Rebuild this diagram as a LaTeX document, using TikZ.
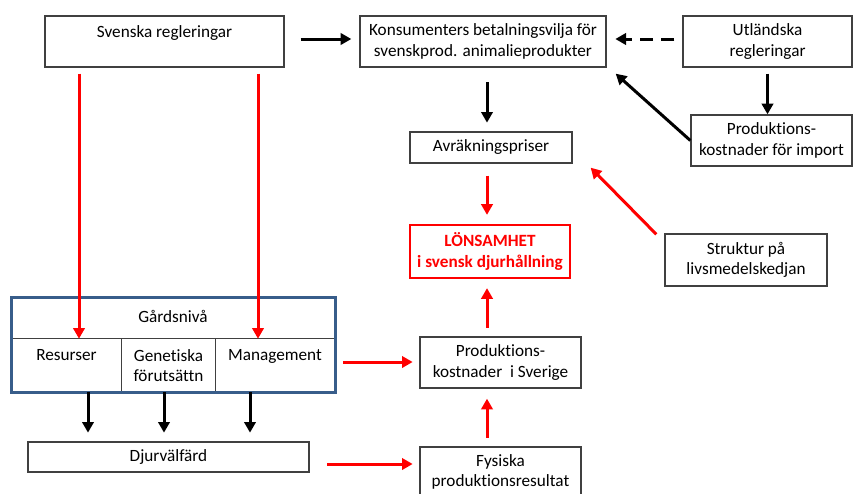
\documentclass[tikz,border=0pt]{standalone}
\usepackage{fontspec}
\setmainfont[Ligatures=CommonOff]{Carlito}
\usetikzlibrary{arrows.meta,calc}
\definecolor{boxgray}{HTML}{404040}
\definecolor{farmblue}{HTML}{385D8A}
\definecolor{alarm}{HTML}{FF0000}
\begin{document}
\begin{tikzpicture}[x=0.75pt,y=-0.75pt,
  txt/.style={align=center,font=\fontsize{12.9}{15.2}\selectfont,inner sep=0pt},
  spanbox/.style n args={4}{at={({(#1+#3)/2},{(#2+#4)/2})},
    minimum width={(#3-#1)*0.75pt},minimum height={(#4-#2)*0.75pt}},
  box/.style={txt,draw=boxgray,line width=1pt},
  cell/.style={txt},
  blk/.style={-{Triangle[length=8pt,width=8.5pt]},line width=2.25pt,black},
  redarr/.style={-{Triangle[length=8pt,width=8.5pt]},line width=2.25pt,alarm},
  dasharr/.style={blk,dash pattern=on 10pt off 6pt}
]
\useasboundingbox (0,0) rectangle (853,493);

% top row
\node[box,spanbox={45}{16}{284}{67}] (sv) {Svenska regleringar\\ \mbox{}};
\node[box,spanbox={360}{16}{606}{67}] (kons) {Konsumenters betalningsvilja för\\ svenskprod. animalieprodukter};
\node[box,spanbox={683}{16}{852}{67}] (utl) {Utländska\\ regleringar};

% price chain
\node[box,spanbox={410}{132}{572}{163}] (avr) {Avräkningspriser};
\node[box,spanbox={691}{115}{852}{166}] (imp) {Produktions-\\ kostnader för import};
\node[txt,draw=alarm,line width=2.2pt,spanbox={410}{225}{570}{278},text=alarm,font=\fontsize{12.9}{15.2}\selectfont\bfseries] (lon) {LÖNSAMHET\\ i svensk djurhållning};
\node[box,spanbox={665}{234}{827}{286}] (str) {Struktur på\\ livsmedelskedjan};

% production side
\node[box,spanbox={420}{337}{581}{388}] (psv) {Produktions-\\ kostnader~~i Sverige};
\node[box,spanbox={420}{447}{581}{497}] (fys) {Fysiska\\ produktionsresultat};
\node[box,spanbox={28}{442}{309}{472}] (djur) {Djurvälfärd};

% farm level block
\node[cell,spanbox={11}{339}{122}{392}] (res) {Resurser\\ \mbox{}};
\node[cell,spanbox={122}{339}{215}{392}] (gen) {Genetiska\\ förutsättn};
\node[cell,spanbox={215}{339}{335}{392}] (man) {Management\\ \mbox{}};
\node[txt] (gardlbl) at (173,316) {Gårdsnivå};
\draw[boxgray,line width=1pt] (res.north west) -- (man.north east);
\draw[boxgray,line width=1pt] (gen.north west) -- (gen.south west) -- (gen.south east) -- (gen.north east);
\node[draw=farmblue,line width=2.25pt,inner sep=0pt,spanbox={11}{297}{335}{392}] (gard) {};

% black connectors
\draw[blk,shorten <=12pt,shorten >=6pt] (sv.east |- 0,39) -- (kons.west |- 0,39);
\draw[dasharr,shorten <=6pt,shorten >=6.5pt] (utl.west |- 0,39) -- (kons.east |- 0,39);
\draw[blk,shorten <=11pt,shorten >=6.5pt] (kons.south -| 487,0) -- (avr.north -| 487,0);
\draw[blk,shorten <=4.5pt] (utl.south) -- (imp.north -| utl.south);
\draw[blk] (imp.west) -- ($(kons.south east)+(9,6)$);
\draw[blk,shorten >=6.5pt] (res.south -| 88,0) -- (djur.north -| 88,0);
\draw[blk,shorten >=6.5pt] (gen.south -| 164,0) -- (djur.north -| 164,0);
\draw[blk,shorten >=6.5pt] (man.south -| 250,0) -- (djur.north -| 250,0);

% red connectors
\draw[redarr,shorten <=4.5pt] (sv.south -| 79,0) -- (res.north -| 79,0);
\draw[redarr,shorten <=4.5pt] (sv.south -| 258,0) -- (man.north -| 258,0);
\draw[redarr,shorten <=9pt,shorten >=6.5pt] (avr.south -| 487,0) -- (lon.north -| 487,0);
\draw[redarr] ($(str.north west)+(-8,1)$) -- ($(avr.south east)+(18,4)$);
\draw[redarr,shorten <=6.5pt,shorten >=6.5pt] (psv.north -| 487,0) -- (lon.south -| 487,0);
\draw[redarr,shorten <=6.5pt,shorten >=7.5pt] (fys.north -| 487,0) -- (psv.south -| 487,0);
\draw[redarr,shorten <=6pt,shorten >=5pt] (man.east |- 0,362) -- (psv.west |- 0,362);
\draw[redarr,shorten <=13pt,shorten >=5pt] (djur.east |- 0,464) -- (fys.west |- 0,464);
\end{tikzpicture}
\end{document}
